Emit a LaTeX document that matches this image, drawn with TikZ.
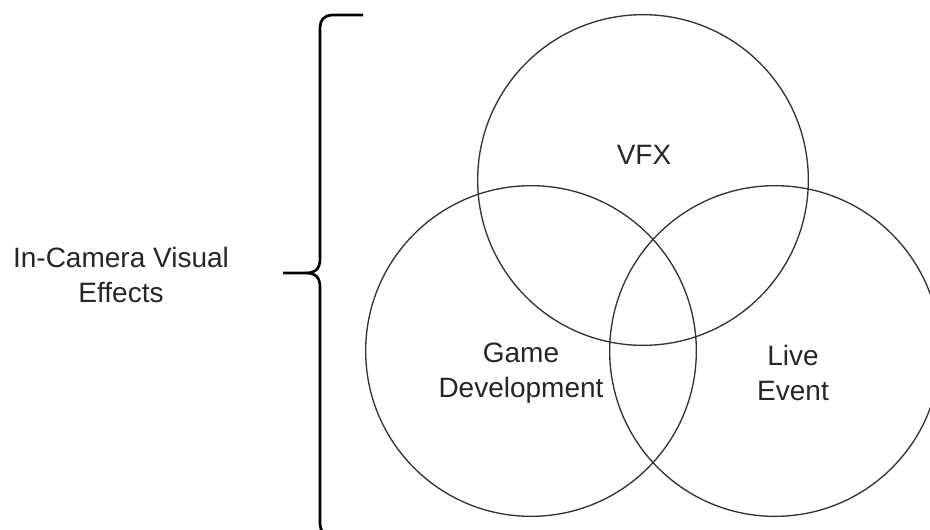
\documentclass[tikz,border=0pt]{standalone}
\usepackage{fontspec}
\setmainfont{Liberation Sans}
\begin{document}
\begin{tikzpicture}[x=0.75pt,y=-0.75pt,
  set/.style={circle,draw=black!80,line width=1pt,inner sep=0pt,minimum size=248pt},
  lbl/.style={font=\fontsize{21}{26.25}\selectfont,text=black!85,align=center,inner sep=0pt},
  brace/.style={draw=black,line width=2pt}]
\useasboundingbox (0,0) rectangle (930,529);
\clip (0,0) rectangle (930,529);

% the three overlapping sets
\node[set] (vfxset)  at (643,180) {};
\node[set] (gameset) at (531,351) {};
\node[set] (liveset) at (775,351) {};

% set labels
\node[lbl,anchor=north] (vfx)  at (644,145) {VFX};
\node[lbl,anchor=north] (game) at (521,343) {Game\\Development};
\node[lbl,anchor=north] (live) at (793,345) {Live\\Event};

% curly brace grouping the sets
\coordinate (btop) at (363,15);
\coordinate (btip) at (283,273);
\coordinate (bbot) at (363,536);
\draw[brace] (btop) -- (332,15) .. controls (325,15) and (320,20) .. (320,27)
  -- (320,259) .. controls (320,268) and (316,273) .. (306,273) -- (btip);
\draw[brace] (306,273) .. controls (316,273) and (320,278) .. (320,287)
  -- (320,524) .. controls (320,531) and (325,536) .. (332,536) -- (bbot);

% brace label
\node[lbl,anchor=north] (ic) at (121,247) {In-Camera Visual\\Effects};
\end{tikzpicture}
\end{document}
